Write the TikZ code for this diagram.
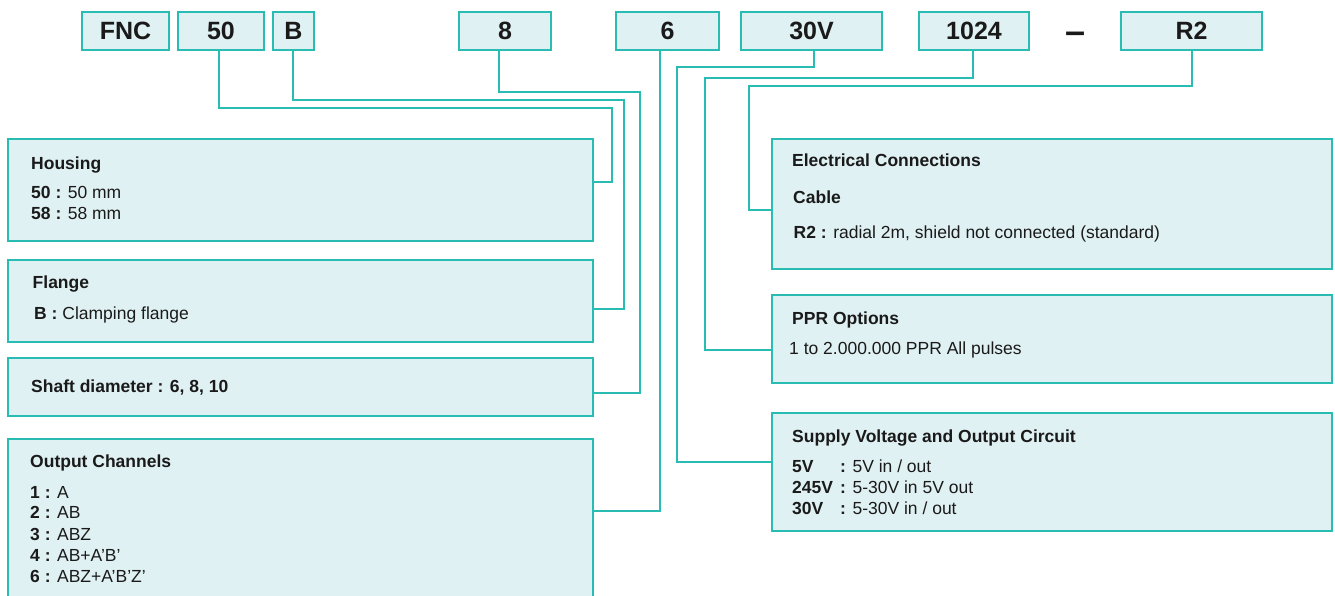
\documentclass[tikz,border=0pt]{standalone}
\usepackage{fontspec}
\setmainfont{Liberation Sans}
\definecolor{tealb}{RGB}{40,188,178}
\definecolor{boxf}{RGB}{224,241,243}
\definecolor{txt}{RGB}{26,26,26}
\begin{document}
\begin{tikzpicture}[x=1pt,y=-1pt,
  codebox/.style={draw=tealb,fill=boxf,line width=2pt,inner sep=0pt,outer sep=0pt,anchor=north west,
    text=txt,font=\bfseries\fontsize{25}{30}\selectfont},
  infobox/.style={draw=tealb,fill=boxf,line width=2pt,inner sep=0pt,outer sep=0pt,anchor=north west},
  hd/.style={anchor=base west,inner sep=0pt,text=txt,font=\bfseries\fontsize{17.5}{21}\selectfont},
  bd/.style={anchor=base west,inner sep=0pt,text=txt,font=\fontsize{17.5}{21}\selectfont},
  conn/.style={draw=tealb,line width=2pt}]
\useasboundingbox (0,0) rectangle (1335,595);
% top code boxes
\node[codebox,minimum width=87,minimum height=38] (fnc) at (82,12) {FNC};
\node[codebox,minimum width=86,minimum height=38] (c50) at (178,12) {50};
\node[codebox,minimum width=41,minimum height=38] (cB) at (273,12) {B};
\node[codebox,minimum width=92,minimum height=38] (c8) at (459,12) {8};
\node[codebox,minimum width=103,minimum height=38] (c6) at (616,12) {6};
\node[codebox,minimum width=141,minimum height=38] (c30) at (741,12) {30V};
\node[codebox,minimum width=110,minimum height=38] (c1024) at (919,12) {1024};
\node[anchor=base,inner sep=0pt,text=txt,font=\bfseries\fontsize{36}{40}\selectfont] (dash) at (1075,43) {–};
\node[codebox,minimum width=141,minimum height=38] (cR2) at (1121,12) {R2};
% left info boxes
\node[infobox,minimum width=585,minimum height=102] (housing) at (8,139) {};
\node[infobox,minimum width=585,minimum height=82] (flange) at (8,260) {};
\node[infobox,minimum width=585,minimum height=58] (shaft) at (8,358) {};
\node[infobox,minimum width=585,minimum height=170] (outch) at (8,439) {};
% right info boxes
\node[infobox,minimum width=560,minimum height=130] (elec) at (772,139) {};
\node[infobox,minimum width=560,minimum height=88] (ppr) at (772,295) {};
\node[infobox,minimum width=560,minimum height=118] (supply) at (772,413) {};
% texts left
\node[hd] (th) at (31,169) {Housing};
\node[bd] (th1) at (31,198) {\textbf{50 :} 50 mm};
\node[bd] (th2) at (31,219) {\textbf{58 :} 58 mm};
\node[hd] (tf) at (32.5,288) {Flange};
\node[bd] (tf1) at (34,319) {\textbf{B :} Clamping flange};
\node[hd] (ts) at (31,392) {Shaft diameter : 6, 8, 10};
\node[hd] (to) at (30,467) {Output Channels};
\node[bd] (to1) at (30,498) {\textbf{1 :} A};
\node[bd] (to2) at (30,518.5) {\textbf{2 :} AB};
\node[bd] (to3) at (30,540) {\textbf{3 :} ABZ};
\node[bd] (to4) at (30,561) {\textbf{4 :} AB+A’B’};
\node[bd] (to6) at (30,582) {\textbf{6 :} ABZ+A’B’Z’};
% texts right
\node[hd] (te) at (792,166) {Electrical Connections};
\node[hd] (tc) at (793,203) {Cable};
\node[bd] (tc1) at (793.5,238) {\textbf{R2 :} radial 2m, shield not connected (standard)};
\node[hd] (tp) at (792,324) {PPR Options};
\node[bd] (tp1) at (789,354) {1 to 2.000.000 PPR All pulses};
\node[hd] (tv) at (792,442) {Supply Voltage and Output Circuit};
\node[bd] (tv1) at (792,472) {\makebox[48pt][l]{\textbf{5V}}\textbf{:} 5V in / out};
\node[bd] (tv2) at (792,493) {\makebox[48pt][l]{\textbf{245V}}\textbf{:} 5-30V in 5V out};
\node[bd] (tv3) at (792,514) {\makebox[48pt][l]{\textbf{30V}}\textbf{:} 5-30V in / out};
% connectors left
\draw[conn] (c50.south -| 219,0) |- (612,108) |- (housing.east |- 0,182);
\draw[conn] (cB.south -| 293,0) |- (624,100) |- (flange.east |- 0,309);
\draw[conn] (c8.south -| 499,0) |- (640,92) |- (shaft.east |- 0,393);
\draw[conn] (c6.south -| 660,0) |- (outch.east |- 0,511);
% connectors right
\draw[conn] (c30.south -| 814,0) |- (677,67) |- (supply.west |- 0,462);
\draw[conn] (c1024.south -| 973,0) |- (705,78) |- (ppr.west |- 0,350);
\draw[conn] (cR2.south -| 1192,0) |- (749,86) |- (elec.west |- 0,210);
\end{tikzpicture}
\end{document}
